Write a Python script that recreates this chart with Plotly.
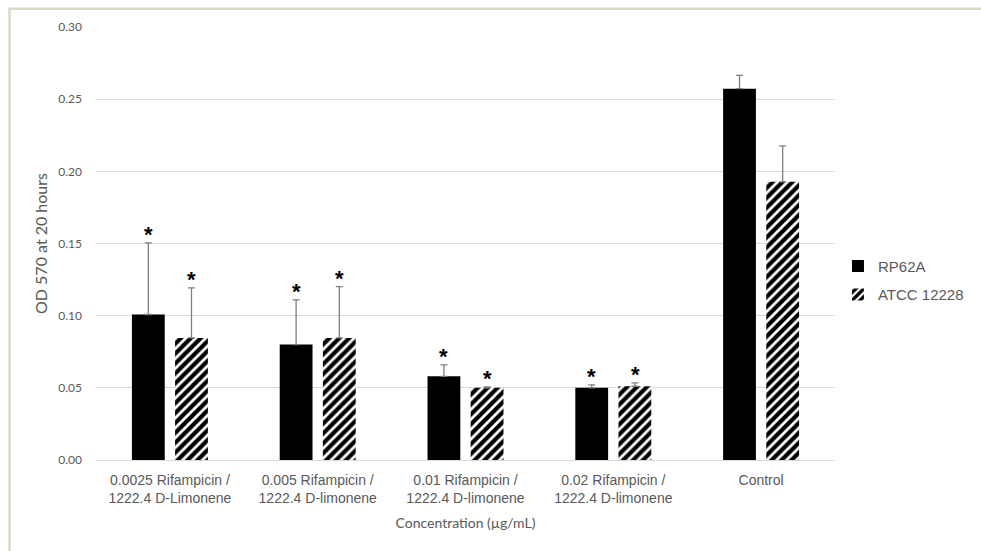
import plotly.graph_objects as go

categories = [
    "0.0025 Rifampicin /<br>1222.4 D-Limonene",
    "0.005 Rifampicin /<br>1222.4 D-limonene",
    "0.01 Rifampicin /<br>1222.4 D-limonene",
    "0.02 Rifampicin /<br>1222.4 D-limonene",
    "Control",
]
rp62a = [0.1008, 0.0800, 0.0580, 0.0500, 0.2573]
rp62a_err = [0.0496, 0.0310, 0.0079, 0.0020, 0.0092]
atcc = [0.0846, 0.0846, 0.0500, 0.0511, 0.1927]
atcc_err = [0.0347, 0.0355, 0.0006, 0.0024, 0.0249]
significant = [True, True, True, True, False]

TICK_GRAY = "#595959"
ERR_GRAY = "#7f7f7f"

fig = go.Figure()
fig.add_bar(
    name="RP62A", x=categories, y=rp62a,
    marker=dict(color="black", line=dict(width=0)),
    error_y=dict(type="data", symmetric=False, array=rp62a_err,
                 arrayminus=[0] * len(rp62a), color=ERR_GRAY,
                 thickness=1.3, width=3.5),
    legendgroup="a",
)
fig.add_bar(
    name="ATCC 12228", x=categories, y=atcc,
    marker=dict(color="white", line=dict(width=0),
                pattern=dict(shape="/", fgcolor="black", bgcolor="white",
                             size=7, solidity=0.6, fgopacity=1)),
    error_y=dict(type="data", symmetric=False, array=atcc_err,
                 arrayminus=[0] * len(atcc), color=ERR_GRAY,
                 thickness=1.3, width=3.5),
    legendgroup="b",
)

# significance stars above each error bar
offset = 21.7
for cat, sig, v1, e1, v2, e2 in zip(categories, significant, rp62a, rp62a_err, atcc, atcc_err):
    if not sig:
        continue
    for val, err, shift in ((v1, e1, -offset), (v2, e2, offset)):
        fig.add_annotation(
            x=cat, y=val + err, xref="x", yref="y", text="<b>*</b>",
            showarrow=False, xshift=shift, yanchor="bottom", yshift=-6,
            font=dict(family="Liberation Sans", size=22, color="black"),
        )

# outer chart frame (left and top edges fall inside the page)
fig.add_shape(type="rect", xref="paper", yref="paper",
              x0=-0.117, x1=1.4, y0=-0.4, y1=1.042,
              line=dict(color="#dcd8c6", width=2.5), layer="below")

fig.update_layout(
    width=981, height=551,
    margin=dict(l=96, r=142, t=27, b=91),
    paper_bgcolor="white", plot_bgcolor="white",
    barmode="group", bargap=0.416, bargroupgap=0.24,
    font=dict(family="Liberation Sans", color=TICK_GRAY),
    legend=dict(x=1.004, y=0.415, xanchor="left", yanchor="middle",
                font=dict(family="Liberation Sans", size=15, color=TICK_GRAY),
                tracegroupgap=6, traceorder="grouped", itemwidth=30),
    xaxis=dict(
        showline=True, linecolor="#d9d9d9", linewidth=1, ticks="",
        ticklabelstandoff=7,
        tickfont=dict(family="Liberation Sans", size=14, color=TICK_GRAY),
        title=dict(text="Concentration (µg/mL)", standoff=13,
                   font=dict(family="Lato", size=14, color=TICK_GRAY)),
    ),
    yaxis=dict(
        range=[0, 0.30], dtick=0.05, tickformat=".2f",
        showgrid=True, gridcolor="#d9d9d9", gridwidth=1, zeroline=False,
        ticks="", ticklen=0, ticklabelstandoff=13,
        tickfont=dict(family="Lato", size=12, color=TICK_GRAY),
        title=dict(text="OD 570 at 20 hours", standoff=6,
                   font=dict(family="Lato", size=16, color=TICK_GRAY)),
    ),
)

fig.write_html("out.html")
